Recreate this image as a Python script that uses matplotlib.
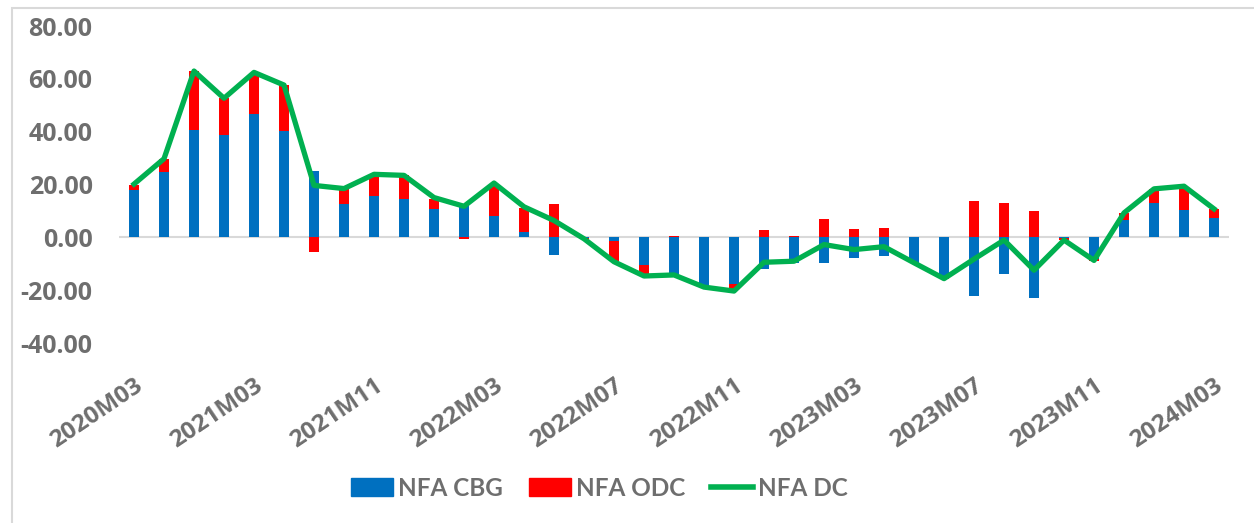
import numpy as np
import matplotlib
matplotlib.use("Agg")
import matplotlib.pyplot as plt
from matplotlib.patches import Patch, Rectangle
from matplotlib.lines import Line2D

# periods (quarterly, then bi-monthly, then monthly)
periods = ['2020M03', '2020M06', '2020M09', '2020M12',
           '2021M03', '2021M05', '2021M07', '2021M09',
           '2021M11', '2021M12', '2022M01', '2022M02',
           '2022M03', '2022M04', '2022M05', '2022M06',
           '2022M07', '2022M08', '2022M09', '2022M10',
           '2022M11', '2022M12', '2023M01', '2023M02',
           '2023M03', '2023M04', '2023M05', '2023M06',
           '2023M07', '2023M08', '2023M09', '2023M10',
           '2023M11', '2023M12', '2024M01', '2024M02',
           '2024M03']

nfa_cbg = [18.0, 24.7, 40.5, 38.9, 46.9, 40.3, 25.3, 12.6, 15.6, 14.7,
           10.7, 12.3, 8.3, 1.9, -6.5, -0.3, -1.5, -10.3, -14.5, -18.3,
           -17.7, -12.1, -9.5, -9.7, -7.8, -7.2, -9.6, -14.8, -22.0, -14.0,
           -22.8, -0.4, -8.2, 6.5, 13.1, 10.4, 7.3]
nfa_odc = [2.0, 5.0, 22.5, 13.8, 15.0, 17.4, -5.6, 5.9, 8.0, 8.8,
           4.0, -0.7, 11.7, 9.3, 12.7, -0.2, -7.5, -4.2, 0.6, -0.5,
           -2.3, 2.8, 0.5, 7.0, 3.1, 3.7, -0.1, -0.8, 13.7, 12.9,
           10.2, -0.6, -0.6, 2.7, 5.1, 8.8, 3.5]
nfa_dc = [20.2, 29.8, 63.0, 52.7, 62.5, 57.7, 19.7, 18.5, 23.9, 23.5,
          15.1, 11.8, 20.6, 11.6, 6.4, -0.5, -9.2, -14.6, -14.2, -18.8,
          -20.3, -9.4, -9.0, -2.7, -4.6, -3.5, -9.6, -15.6, -8.2, -1.0,
          -12.4, -1.0, -8.7, 9.3, 18.4, 19.4, 10.8]

blue = '#0070C0'
red = '#FF0000'
green = '#00B050'
gray = '#6E6E6E'

fig = plt.figure(figsize=(12.54, 5.23), dpi=100)
ax = fig.add_axes([0.0949, 0.344, 0.8852, 0.606])

x = np.arange(len(periods))
cbg = np.array(nfa_cbg)
odc = np.array(nfa_odc)
# stack each component on its own side of zero
odc_base = np.where(np.sign(odc) == np.sign(cbg), cbg, 0.0)

ax.bar(x, cbg, width=0.34, color=blue, zorder=2)
ax.bar(x, odc, width=0.34, bottom=odc_base, color=red, zorder=2)
ax.plot(x, nfa_dc, color=green, lw=3.8, solid_joinstyle='round', zorder=3)
ax.axhline(0, color='#D9D9D9', lw=1.5, zorder=1)

ax.set_xlim(-0.5, len(periods) - 0.5)
ax.set_ylim(-40, 80)
ax.set_yticks(np.arange(-40, 81, 20))
ax.set_yticklabels([f'{v:.2f}' for v in np.arange(-40, 81, 20)])
ax.set_xticks(x[::4])
ax.set_xticklabels(periods[::4])

for s in ax.spines.values():
    s.set_visible(False)
ax.tick_params(axis='y', length=0, pad=19, labelsize=18, labelcolor=gray)
ax.tick_params(axis='x', length=0, pad=22, labelsize=17.5, labelcolor=gray)
for t in ax.get_yticklabels():
    t.set_fontfamily('Open Sans')
    t.set_fontweight('bold')
for t in ax.get_xticklabels():
    t.set_fontfamily('Open Sans')
    t.set_fontweight('bold')
    t.set_rotation(34)
    t.set_ha('right')
    t.set_va('top')
    t.set_rotation_mode('anchor')

handles = [Patch(color=blue), Patch(color=red), Line2D([], [], color=green, lw=4)]
leg = fig.legend(handles, ['NFA CBG', 'NFA ODC', 'NFA DC'], loc='center',
                 bbox_to_anchor=(0.478, 1 - 488 / 523), ncol=3, frameon=False,
                 handlelength=1.75, handleheight=0.75, handletextpad=0.2,
                 columnspacing=1.05,
                 prop={'family': 'Lato', 'weight': 'bold', 'size': 17.5})
for t in leg.get_texts():
    t.set_color(gray)

# chart frame
fig.add_artist(Rectangle((12 / 1254, -0.05), 1.1, 1 - 8 / 523 + 0.05,
                         transform=fig.transFigure, fill=False,
                         edgecolor='#D9D9D9', lw=1.5))

fig.savefig('out.png', dpi=100)
